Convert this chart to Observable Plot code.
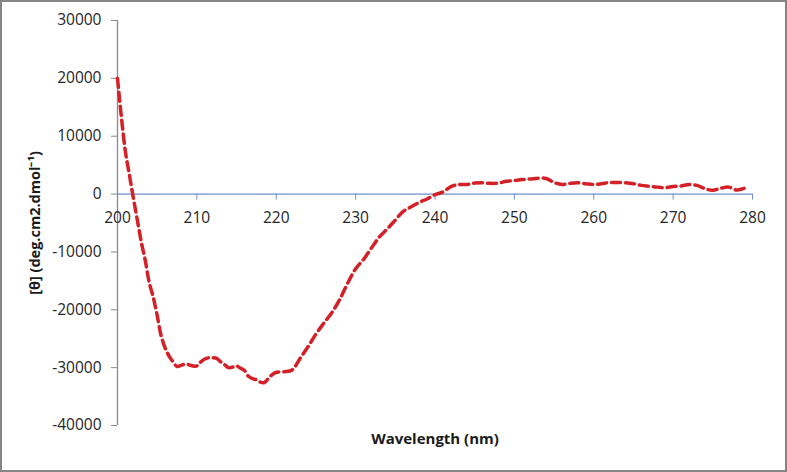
<!DOCTYPE html>
<html>
<head>
<meta charset="utf-8">
<script src="https://cdn.jsdelivr.net/npm/d3@7"></script>
<script src="https://cdn.jsdelivr.net/npm/@observablehq/plot@0.6"></script>
<style>
  html, body { margin: 0; padding: 0; background: #fff; }
  #wrap { position: relative; width: 787px; height: 472px; overflow: hidden; }
  #wrap svg { display: block; position: absolute; left: 0; top: 0; }
  #border { position: absolute; left: 0; top: 0; width: 787px; height: 472px; box-sizing: border-box; border: 2px solid #858585; pointer-events: none; }
</style>
</head>
<body>
<div id="wrap"><div id="border"></div></div>
<script>
const wavelength = [200, 200.5, 201, 201.5, 202, 202.5, 203, 203.5, 204, 204.5, 205, 205.5, 206, 206.5, 207, 207.5, 208, 208.5, 209, 209.5, 210, 210.5, 211, 211.5, 212, 212.5, 213, 213.5, 214, 214.5, 215, 215.5, 216, 216.5, 217, 217.5, 218, 218.5, 219, 219.5, 220, 221, 222, 223, 224, 225, 226, 227, 228, 229, 230, 231, 232, 233, 234, 235, 236, 237, 238, 239, 240, 241, 242, 243, 244, 245, 246, 247, 248, 249, 250, 251, 252, 253, 254, 255, 256, 257, 258, 259, 260, 261, 262, 263, 264, 265, 266, 267, 268, 269, 270, 271, 272, 273, 274, 275, 276, 277, 278, 279, 279.5];
const theta = [20000, 13200, 7300, 3300, -700, -4500, -8300, -11500, -15300, -17800, -21000, -24500, -26600, -28000, -29000, -29800, -29600, -29400, -29500, -29700, -29700, -29000, -28500, -28300, -28300, -28400, -29000, -29500, -30000, -29900, -29700, -30100, -30500, -31500, -31900, -32100, -32500, -32600, -31900, -31200, -30800, -30700, -30400, -28400, -26400, -24200, -22300, -20500, -18200, -15400, -12900, -11300, -9300, -7400, -6000, -4500, -3000, -2200, -1450, -850, -100, 350, 1300, 1650, 1650, 1900, 1950, 1850, 1900, 2200, 2350, 2500, 2600, 2750, 2700, 2000, 1650, 1850, 1950, 1800, 1650, 1800, 2000, 2000, 1950, 1800, 1500, 1350, 1200, 1100, 1300, 1400, 1650, 1500, 950, 650, 1000, 1200, 700, 1000, 1100];
const xTicks = [200, 210, 220, 230, 240, 250, 260, 270, 280];
const yTicks = [-40000, -30000, -20000, -10000, 0, 10000, 20000, 30000];
const xTitle = "Wavelength (nm)";
const yTitle = "[θ] (deg.cm2.dmol⁻¹)";

const data = wavelength.map((w, i) => ({w, t: theta[i]}));

const W = 787, H = 472;
const mL = 117, mR = 35, mT = 20, mB = 47;
const yDomain = [-40000, 30000];
const xDomain = [200, 280];

// place the x axis on the zero line, using the library's own y scale
const yScale = Plot.scale({y: {domain: yDomain, range: [H - mB, mT]}});
const zeroOffset = yScale.apply(0) - (H - mB);

const font = "'Open Sans', sans-serif";
const plot = Plot.plot({
  width: W,
  height: H,
  marginLeft: mL,
  marginRight: mR,
  marginTop: mT,
  marginBottom: mB,
  style: {fontFamily: font, fontSize: "16px", color: "#262626", background: "transparent"},
  x: {domain: xDomain},
  y: {domain: yDomain},
  marks: [
    Plot.ruleX([200], {stroke: "#8a8a8a", strokeWidth: 1.3}),
    Plot.ruleY([0], {stroke: "#6f8fcf", strokeWidth: 1.3}),
    Plot.axisY({ticks: yTicks, tickSize: 6, tickPadding: 10, stroke: "#8a8a8a", fill: "#262626", tickFormat: d => String(d), label: null, fontSize: 15.5}),
    Plot.axisX({ticks: xTicks, tickSize: 6, tickPadding: 12, dy: zeroOffset, stroke: "#6f8fcf", fill: "#262626", tickFormat: d => String(d), label: null, fontSize: 15.5}),
    Plot.line(data, {x: "w", y: "t", stroke: "#d42027", strokeWidth: 3.5, strokeDasharray: "9,5", curve: "catmull-rom"}),
    Plot.text([xTitle], {text: d => d, frameAnchor: "bottom", dy: 14, lineAnchor: "middle", textAnchor: "middle", fontWeight: "bold", fontSize: 15, fill: "#1a1a1a"}),
    Plot.text([yTitle], {text: d => d, frameAnchor: "left", dx: -82, rotate: -90, lineAnchor: "middle", textAnchor: "middle", fontWeight: "bold", fontSize: 14.5, fill: "#1a1a1a"})
  ]
});
document.getElementById("wrap").insertBefore(plot, document.getElementById("border"));
</script>
</body>
</html>
